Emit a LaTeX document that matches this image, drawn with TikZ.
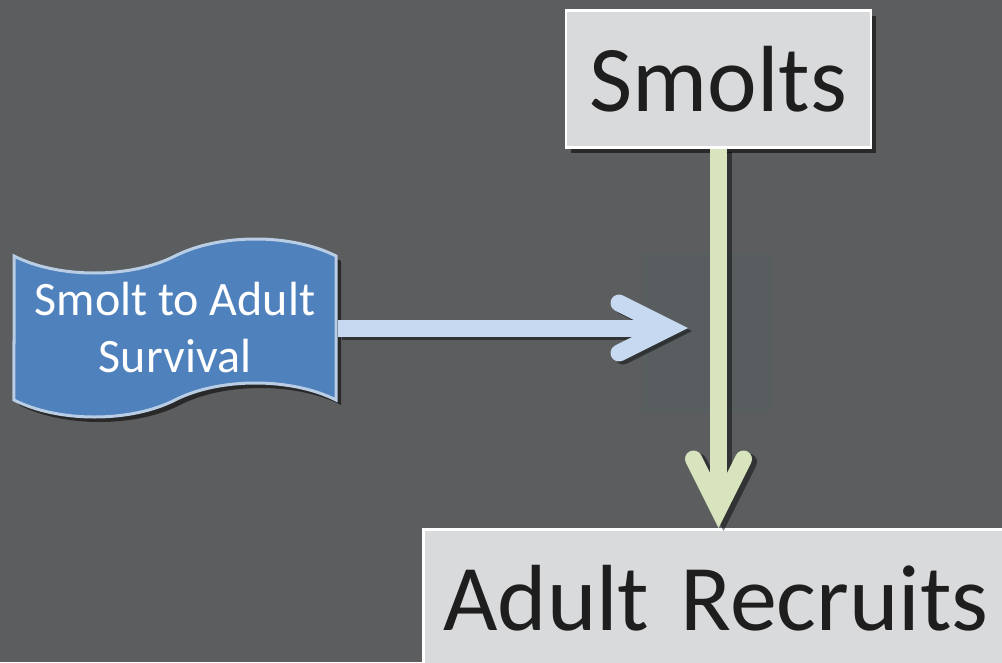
\documentclass[tikz,border=0pt]{standalone}
\usepackage{fontspec}
\setmainfont{Carlito}
\usetikzlibrary{shapes.symbols}
\usetikzlibrary{shadows}
\usetikzlibrary{arrows.meta}
\definecolor{hatter}{HTML}{5C5D5F}
\definecolor{doboz}{HTML}{D9DADC}
\definecolor{kek}{HTML}{4F81BD}
\definecolor{kekkeret}{HTML}{B9CDE5}
\definecolor{halvanykek}{HTML}{C6D9F1}
\definecolor{halvanyzold}{HTML}{D7E4BD}
\definecolor{szoveg}{HTML}{1E1E1E}

\begin{document}
\begin{tikzpicture}[x=1pt,y=-1pt,
allapot/.style={rectangle,draw=white,line width=2.5pt,fill=doboz,text=szoveg,
  font=\fontsize{94}{112}\selectfont,
  drop shadow={shadow xshift=5pt,shadow yshift=-5pt,opacity=.55,fill=black}},
szalag/.style={tape,draw=kekkeret,line width=3pt,fill=kek,text=white,align=center,
  font=\fontsize{48}{57}\selectfont,tape bend height=34pt,
  minimum width=322pt,minimum height=178pt,
  drop shadow={shadow xshift=5pt,shadow yshift=-5pt,opacity=.55,fill=black}},
nyil/.style={line width=17pt,-{Straight Barb[length=50pt,width=50pt,line cap=round,line join=miter]}}]
\useasboundingbox (0,0) rectangle (1002,662);
\clip (0,0) rectangle (1002,662);
\fill[hatter] (0,0) rectangle (1002,662);
% halvany hatter-doboz a nyilak talalkozasanal
\fill[teal!30!hatter,opacity=.12] (642,253) rectangle (773,413);
\node[allapot,minimum width=305pt,minimum height=137pt](smolts) at (718.5,79){Smolts};
\node[allapot,anchor=north west,minimum width=640pt,minimum height=138pt,
  text width=600pt,align=left,inner xsep=19pt](adult) at (422,528){Adult Recruits};
\node[szalag](survival) at (175,328){Smolt to Adult\\Survival};
\coordinate (cel) at (688,328);
\begin{scope}[nyil]
\draw[black,opacity=.45,transform canvas={shift={(4pt,-3pt)}}] (survival.east)--(cel);
\draw[black,opacity=.45,transform canvas={shift={(5pt,-3pt)}}] (smolts.south)--(adult.north-|smolts.south);
\draw[halvanykek] (survival.east)--(cel);
\draw[halvanyzold] (smolts.south)--(adult.north-|smolts.south);
\end{scope}
\end{tikzpicture}
\end{document}
